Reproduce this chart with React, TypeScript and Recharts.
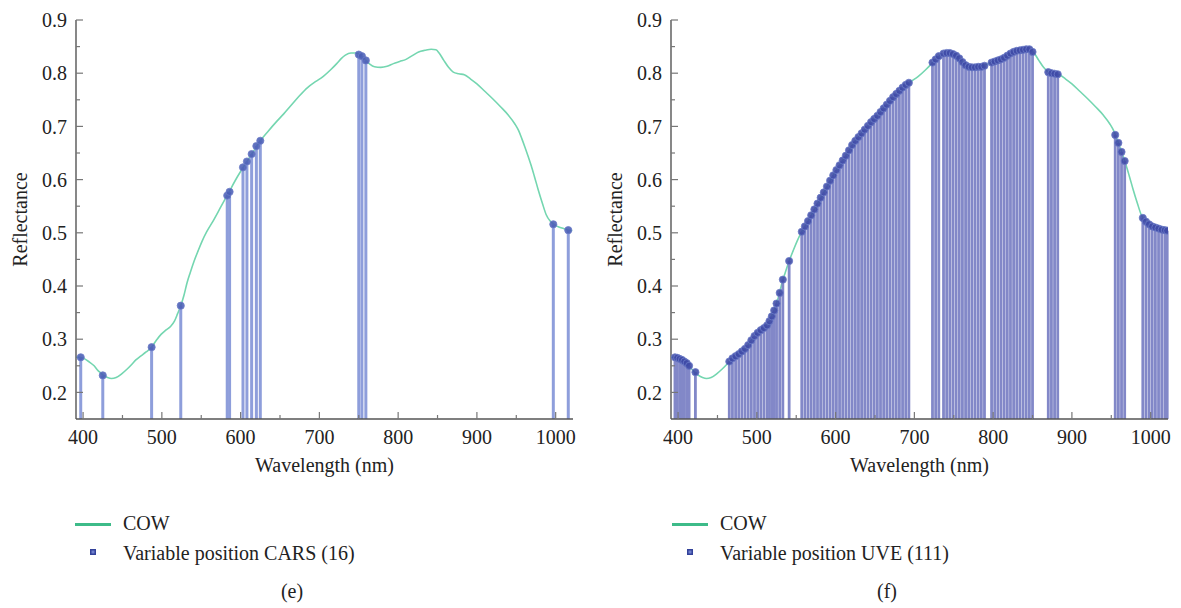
import React from 'react';
import { ComposedChart, Line, Scatter, ErrorBar, XAxis, YAxis } from 'recharts';

// COW mean spectrum (nm, reflectance)
const CURVE_W = [
  391, 396, 402, 408, 414, 419, 422, 426, 431, 436, 442, 449, 456, 462, 467, 473, 480, 487, 493, 499,
  505, 511, 516, 520, 524, 528, 532, 536, 541, 546, 551, 557, 565, 575, 585, 595, 605, 615, 625, 635,
  645, 655, 665, 675, 685, 695, 705, 714, 722, 728, 733, 740, 746, 752, 758, 764, 770, 778, 786, 794,
  802, 810, 818, 826, 834, 842, 848, 852, 858, 864, 870, 877, 884, 892, 900, 910, 920, 930, 940, 948,
  953, 957, 961, 965, 969, 973, 978, 983, 988, 993, 998, 1004, 1010, 1016, 1021,
];
const CURVE_R = [
  0.266, 0.266, 0.263, 0.257, 0.25, 0.241, 0.237, 0.232, 0.228, 0.226, 0.228, 0.235, 0.244, 0.253, 0.261, 0.268, 0.276, 0.285, 0.298, 0.309,
  0.317, 0.324, 0.334, 0.348, 0.363, 0.382, 0.406, 0.425, 0.447, 0.466, 0.484, 0.502, 0.522, 0.549, 0.576, 0.603, 0.627, 0.65, 0.673, 0.691,
  0.708, 0.724, 0.741, 0.758, 0.773, 0.784, 0.794, 0.806, 0.818, 0.828, 0.834, 0.838, 0.838, 0.834, 0.826, 0.817, 0.812, 0.811, 0.813, 0.818,
  0.822, 0.826, 0.833, 0.84, 0.843, 0.845, 0.844, 0.838, 0.824, 0.811, 0.802, 0.799, 0.797, 0.789, 0.78, 0.766, 0.752, 0.737, 0.721, 0.705,
  0.692, 0.677, 0.661, 0.644, 0.626, 0.606, 0.58, 0.556, 0.534, 0.522, 0.516, 0.511, 0.508, 0.505, 0.504,
];

// CARS selected variables (16)
const CARS_W = [397, 425, 487, 524, 583, 586, 603, 608, 614, 620, 625, 750, 754, 759, 997, 1016];
const CARS_R = [0.266, 0.232, 0.285, 0.363, 0.57, 0.577, 0.623, 0.634, 0.648, 0.663, 0.673, 0.835, 0.832, 0.824, 0.516, 0.505];

// UVE selected variables (111)
const UVE_W = [
  396, 399, 402, 405, 408, 411, 414,
  422,
  465, 469, 473, 477, 481, 485, 489, 493, 497, 501, 505, 509, 513, 516, 519, 522, 525, 529, 533,
  541,
  557, 561, 565, 569, 573, 577, 581, 585, 589, 593, 597, 601, 605, 609, 613, 617, 621, 625, 629, 633,
  637, 641, 645, 649, 653, 657, 661, 665, 669, 673, 677, 681, 685, 689, 693,
  723, 727, 731,
  737, 741, 745, 749, 753, 757, 761, 765, 769, 773, 777, 781, 785, 789,
  798, 802, 806, 810, 814, 818, 822, 826, 830, 834, 838, 842, 846, 850,
  870, 874, 878, 882,
  955, 959, 963, 967,
  990, 994, 998, 1002, 1006, 1010, 1014, 1018, 1021,
];
const UVE_R = [
  0.266, 0.265, 0.263, 0.261, 0.258, 0.255, 0.25,
  0.238,
  0.258, 0.264, 0.268, 0.272, 0.277, 0.282, 0.289, 0.298, 0.306, 0.312, 0.317, 0.321, 0.326, 0.334, 0.343, 0.354, 0.367, 0.387, 0.412,
  0.447,
  0.502, 0.512, 0.522, 0.533, 0.544, 0.555, 0.566, 0.576, 0.587, 0.598, 0.608, 0.618, 0.627, 0.636, 0.645, 0.655, 0.665, 0.673, 0.68, 0.687,
  0.694, 0.701, 0.708, 0.714, 0.72, 0.727, 0.734, 0.741, 0.748, 0.755, 0.761, 0.767, 0.773, 0.778, 0.782,
  0.82, 0.826, 0.832,
  0.837, 0.838, 0.838, 0.836, 0.833, 0.828, 0.821, 0.815, 0.812, 0.811, 0.811, 0.812, 0.812, 0.814,
  0.82, 0.822, 0.824, 0.826, 0.829, 0.833, 0.837, 0.84, 0.842, 0.843, 0.844, 0.845, 0.845, 0.84,
  0.802, 0.8, 0.799, 0.798,
  0.684, 0.669, 0.652, 0.635,
  0.528, 0.521, 0.516, 0.512, 0.51, 0.508, 0.506, 0.505, 0.504,
];

const X_TICKS = [400, 450, 500, 550, 600, 650, 700, 750, 800, 850, 900, 950, 1000];
const Y_TICKS = [0.2, 0.25, 0.3, 0.35, 0.4, 0.45, 0.5, 0.55, 0.6, 0.65, 0.7, 0.75, 0.8, 0.85, 0.9];
const X_DOMAIN = [391, 1022];
const Y_DOMAIN = [0.15, 0.9];

const FONT = "'Liberation Serif', serif";
const TEXT = '#222';
const AXIS = '#555';
const LINE_GREEN = '#74d6b0';
const LEGEND_GREEN = '#3dbb89';

const curveData = CURVE_W.map((w, i) => ({ w, r: CURVE_R[i] }));
const toMarks = (ws: number[], rs: number[]) =>
  ws.map((w, i) => ({ w, r: rs[i], err: [rs[i] - Y_DOMAIN[0], 0] }));
const carsData = toMarks(CARS_W, CARS_R);
const uveData = toMarks(UVE_W, UVE_R);

const isMajorX = (v: number) => v % 100 === 0;
const isMajorY = (v: number) => Math.round(v * 100) % 10 === 0;

const makeXTick = (side: 'bottom' | 'top') => (props: any) => {
  const { x, y, payload } = props;
  const major = isMajorX(payload.value);
  const len = major ? 7 : 4;
  const dir = side === 'bottom' ? -1 : 1;
  return (
    <g>
      <line x1={x} y1={y} x2={x} y2={y + dir * len} stroke="#777" strokeWidth={1.2} />
      {side === 'bottom' && major && (
        <text x={x} y={y + 11} dy="0.71em" textAnchor="middle" fill={TEXT} fontSize={20} fontFamily={FONT}>
          {payload.value}
        </text>
      )}
    </g>
  );
};

const makeYTick = (side: 'left' | 'right') => (props: any) => {
  const { x, y, payload } = props;
  const major = isMajorY(payload.value);
  const len = major ? 7 : 4;
  const dir = side === 'left' ? 1 : -1;
  return (
    <g>
      <line x1={x} y1={y} x2={x + dir * len} y2={y} stroke="#777" strokeWidth={1.2} />
      {side === 'left' && major && (
        <text x={x - 9} y={y} dy="0.355em" textAnchor="end" fill={TEXT} fontSize={20} fontFamily={FONT}>
          {payload.value.toFixed(1)}
        </text>
      )}
    </g>
  );
};

const xLabel = (props: any) => {
  const vb = props.viewBox || { x: 76, y: 419, width: 497, height: 53 };
  return (
    <text x={vb.x + vb.width / 2} y={vb.y + 53} textAnchor="middle" fill={TEXT} fontSize={20} fontFamily={FONT}>
      Wavelength (nm)
    </text>
  );
};

const yLabel = (props: any) => {
  const vb = props.viewBox || { x: 10, y: 20, width: 66, height: 399 };
  const cx = vb.x + 10;
  const cy = vb.y + vb.height / 2;
  return (
    <text x={cx} y={cy} transform={`rotate(-90 ${cx} ${cy})`} textAnchor="middle" dy="0.35em"
      fill={TEXT} fontSize={20} fontFamily={FONT}>
      Reflectance
    </text>
  );
};

interface PanelProps {
  width: number;
  marginRight: number;
  marks: { w: number; r: number; err: number[] }[];
  stem: string;
  stemWidth: number;
  dot: string;
}

const Panel = ({ width, marginRight, marks, stem, stemWidth, dot }: PanelProps) => {
  const axisLine = { stroke: AXIS, strokeWidth: 1.4 };
  return (
    <ComposedChart width={width} height={608} margin={{ top: 20, right: marginRight, bottom: 136, left: 10 }}>
      <XAxis
        xAxisId="b" dataKey="w" type="number" domain={X_DOMAIN} ticks={X_TICKS} interval={0}
        tickSize={0} tickMargin={0} height={53} axisLine={axisLine} tick={makeXTick('bottom')}
        allowDataOverflow label={{ content: xLabel }}
      />
      <XAxis
        xAxisId="t" orientation="top" dataKey="w" type="number" domain={X_DOMAIN} ticks={X_TICKS} interval={0}
        tickSize={0} tickMargin={0} height={0} axisLine={axisLine} tick={makeXTick('top')} allowDataOverflow
      />
      <YAxis
        yAxisId="l" dataKey="r" type="number" domain={Y_DOMAIN} ticks={Y_TICKS} interval={0}
        tickSize={0} tickMargin={0} width={66} axisLine={axisLine} tick={makeYTick('left')} allowDataOverflow
        label={{ content: yLabel }}
      />
      <YAxis
        yAxisId="r" orientation="right" dataKey="r" type="number" domain={Y_DOMAIN} ticks={Y_TICKS} interval={0}
        tickSize={0} tickMargin={0} width={0} axisLine={axisLine} tick={makeYTick('right')} allowDataOverflow
      />
      <Line
        xAxisId="b" yAxisId="l" data={curveData} dataKey="r" type="monotone" stroke={LINE_GREEN}
        strokeWidth={1.6} dot={false} activeDot={false} isAnimationActive={false}
      />
      <Scatter
        xAxisId="b" yAxisId="l" data={marks} dataKey="r" isAnimationActive={false}
        shape={(p: any) => (
          <circle cx={p.cx} cy={p.cy} r={3.6} fill={dot} fillOpacity={0.88} stroke="#6c7cc8" strokeWidth={0.8} />
        )}
      >
        <ErrorBar dataKey="err" direction="y" width={0} stroke={stem} strokeWidth={stemWidth} />
      </Scatter>
    </ComposedChart>
  );
};

const legendText: React.CSSProperties = { position: 'absolute', fontFamily: FONT, fontSize: 20, color: TEXT, whiteSpace: 'nowrap', lineHeight: '20px' };

const LegendBlock = ({ left, label, caption, captionX }: { left: number; label: string; caption: string; captionX: number }) => (
  <>
    <div style={{ position: 'absolute', left, top: 523, width: 36, height: 3, background: LEGEND_GREEN }} />
    <div style={{ ...legendText, left: left + 48, top: 513 }}>COW</div>
    <div style={{ position: 'absolute', left: left + 15, top: 549, width: 6, height: 6, background: '#6f7fcc', boxShadow: 'inset 0 0 0 1.5px #33429a' }} />
    <div style={{ ...legendText, left: left + 48, top: 543 }}>{label}</div>
    <div style={{ ...legendText, left: captionX, top: 581, transform: 'translateX(-50%)' }}>{caption}</div>
  </>
);

export default function App() {
  return (
    <div style={{ position: 'absolute', left: 0, top: 0, width: 1181, height: 608, background: '#fff', overflow: 'hidden', fontFamily: FONT }}>
      <div style={{ position: 'absolute', left: 0, top: 0 }}>
        <Panel width={600} marginRight={27} marks={carsData} stem="#8e9edb" stemWidth={3} dot="#4a5db5" />
      </div>
      <div style={{ position: 'absolute', left: 595, top: 0 }}>
        <Panel width={586} marginRight={13} marks={uveData} stem="#8288c8" stemWidth={2.8} dot="#3f4aa6" />
      </div>
      <LegendBlock left={75} label="Variable position CARS (16)" caption="(e)" captionX={292} />
      <LegendBlock left={672} label="Variable position UVE (111)" caption="(f)" captionX={887} />
    </div>
  );
}
